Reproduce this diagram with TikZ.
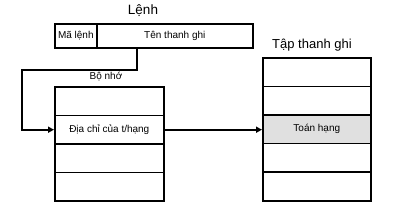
\documentclass[tikz,border=0pt]{standalone}
\usepackage{fontspec}
\setmainfont{Liberation Sans}
\usetikzlibrary{arrows.meta}
\begin{document}
\begin{tikzpicture}[x=1pt,y=-1pt,
  cell/.style={draw,line width=1.6pt,minimum height=28.6pt,minimum width=#1,inner sep=0pt,anchor=north west,font=\fontsize{10}{11}\selectfont},
  instr/.style={draw,line width=1.6pt,minimum height=24pt,minimum width=#1,inner sep=0pt,anchor=north west,font=\fontsize{10}{11}\selectfont},
  conn/.style={line width=1.6pt,-{Triangle[length=6pt,width=6pt]}},
  ttl/.style={font=\fontsize{#1}{#1}\selectfont,inner sep=0pt}]
\useasboundingbox (0,0) rectangle (413,207);
% instruction
\node[ttl=13.5] (lenh) at (143,11) {Lệnh};
\node[instr=42pt] (ma) at (54,23) {Mã lệnh};
\node[instr=156pt] (ten) at (96,23) {Tên thanh ghi};
% memory
\node[ttl=10] (bonho) at (106,77) {Bộ nhớ};
\node[cell=109pt] (m1) at (54,86) {};
\node[cell=109pt] (m2) at (54,114.6) {Địa chỉ của t/hạng};
\node[cell=109pt] (m3) at (54,143.2) {};
\node[cell=109pt] (m4) at (54,171.8) {};
% registers
\node[ttl=13] (tap) at (312,45) {Tập thanh ghi};
\node[cell=108pt] (r1) at (262,57) {};
\node[cell=108pt] (r2) at (262,85.6) {};
\node[cell=108pt,fill=black!12] (r3) at (262,114.2) {Toán hạng};
\node[cell=108pt] (r4) at (262,142.8) {};
\node[cell=108pt] (r5) at (262,171.4) {};
% connectors
\coordinate (c1) at (137,70);
\coordinate (c2) at (22,70);
\draw[conn] (ten.south -| c1) -- (c1) -- (c2) |- (m2.west);
\draw[conn] (m2.east) -- (r3.west |- m2.east);
\end{tikzpicture}
\end{document}
